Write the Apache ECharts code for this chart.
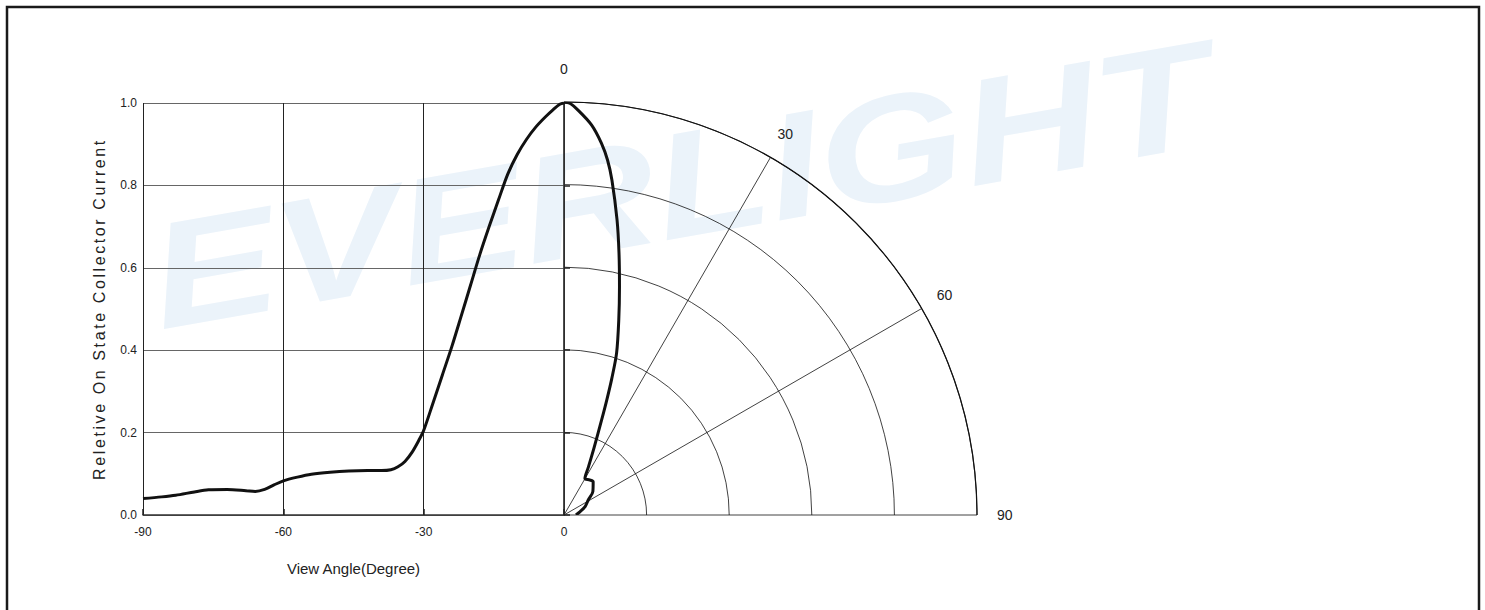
<!DOCTYPE html>
<html>
<head>
<meta charset="utf-8">
<script src="https://cdn.jsdelivr.net/npm/echarts@6/dist/echarts.min.js"></script>
<style>
html,body{margin:0;padding:0;background:#fff;}
#main{width:1485px;height:610px;}
</style>
</head>
<body>
<div id="main"></div>
<script>
// Cartesian half (-90..0 degrees)
const cartAngles = [-90, -86, -83, -79, -76, -72, -68, -66, -64, -62, -60, -57, -54, -50, -46, -42, -39, -37, -35.5, -34, -32.5, -31, -30, -28, -26, -24, -22, -20, -18, -16, -14, -12, -10, -8, -6, -4, -2.3, -0.9, 0];
const cartValues = [0.040, 0.044, 0.048, 0.056, 0.061, 0.062, 0.059, 0.057, 0.062, 0.073, 0.083, 0.092, 0.099, 0.104, 0.107, 0.108, 0.108, 0.110, 0.117, 0.130, 0.152, 0.182, 0.205, 0.272, 0.340, 0.408, 0.482, 0.557, 0.632, 0.700, 0.765, 0.828, 0.875, 0.912, 0.942, 0.966, 0.984, 0.997, 1.0];
// Polar half (0..90 degrees)
const polarAngles = [0, 0.8, 1.98, 4.03, 5.74, 6.99, 8.15, 10.19, 11.86, 13.68, 15.7, 18.0, 19.3, 20.4, 21.6, 24, 27, 29.8, 36, 41.3, 50.9, 58.3, 68.4, 78, 90];
const polarValues = [1.0, 0.997, 0.981, 0.947, 0.905, 0.866, 0.819, 0.726, 0.648, 0.568, 0.490, 0.412, 0.35, 0.297, 0.247, 0.18, 0.13, 0.102, 0.105, 0.107, 0.090, 0.069, 0.055, 0.040, 0.029];

const xTickLabels = [-90, -60, -30, 0];
const angleTickLabels = [0, 30, 60, 90];
const yName = 'Reletive On State Collector Current';
const xName = 'View Angle(Degree)';
const watermark = 'EVERLIGHT';

const chart = echarts.init(document.getElementById('main'), null, {renderer: 'svg', width: 1485, height: 610});

const option = {
  animation: false,
  backgroundColor: '#ffffff',
  textStyle: {fontFamily: 'Liberation Sans, Arial, sans-serif'},
  graphic: [
    {
      type: 'text', z: -10, x: 680, y: 185, rotation: 10 * Math.PI / 180,
      scaleX: 1.25, scaleY: 1,
      style: {text: watermark, font: 'italic bold 150px "Liberation Sans", Arial, sans-serif', fill: '#ebf3fa', align: 'center', verticalAlign: 'middle'},
      silent: true
    },
    {
      type: 'rect', z: 100, silent: true,
      shape: {x: 7, y: 7, width: 1472, height: 640},
      style: {fill: 'none', stroke: '#1a1a1a', lineWidth: 2.5}
    }
  ],
  grid: {left: 143, right: 921, top: 103, bottom: 95, containLabel: false},
  xAxis: {
    type: 'value', min: -90, max: 0, interval: 30,
    name: xName, nameLocation: 'middle', nameGap: 46,
    nameTextStyle: {fontSize: 15, color: '#222'},
    axisLine: {show: true, lineStyle: {color: '#333', width: 1.5}},
    axisTick: {show: true, inside: true, length: 6, lineStyle: {color: '#222', width: 1.5}},
    axisLabel: {fontSize: 12, color: '#222', margin: 11, formatter: v => String(v)},
    splitLine: {show: true, lineStyle: {color: '#222', width: 1}}
  },
  yAxis: {
    type: 'value', min: 0, max: 1, interval: 0.2,
    name: yName, nameLocation: 'middle', nameGap: 36,
    nameTextStyle: {fontSize: 16, color: '#222'},
    axisLine: {show: true, lineStyle: {color: '#333', width: 1.5}},
    axisTick: {show: true, inside: true, length: 6, lineStyle: {color: '#222', width: 1.5}},
    axisLabel: {fontSize: 12, color: '#222', margin: 6, formatter: v => v.toFixed(1)},
    splitLine: {show: true, lineStyle: {color: '#666', width: 1}}
  },
  polar: {center: [564, 515], radius: 413},
  angleAxis: {
    type: 'value', min: 0, max: 90, interval: 30,
    startAngle: 90, endAngle: 0, clockwise: true,
    axisLine: {show: true, lineStyle: {color: '#111', width: 1.2}},
    axisTick: {show: false},
    splitLine: {show: true, lineStyle: {color: '#111', width: 0.8}},
    axisLabel: {
      show: true, margin: 14, fontSize: 14, color: '#222',
      formatter: v => '{a' + v + '|' + v + '}',
      rich: {
        a0: {fontSize: 14, color: '#222', padding: [0, 0, 12, 0]},
        a30: {fontSize: 14, color: '#222', padding: [0, 0, 4, 0]},
        a60: {fontSize: 14, color: '#222', padding: [0, 0, 0, 3]},
        a90: {fontSize: 14, color: '#222', padding: [0, 0, 0, 6]}
      }
    }
  },
  radiusAxis: {
    type: 'value', min: 0, max: 1, interval: 0.2,
    axisLine: {show: false}, axisTick: {show: false}, axisLabel: {show: false},
    splitLine: {show: true, lineStyle: {color: '#111', width: 0.8}}
  },
  series: [
    {
      type: 'line', name: 'cartesian', smooth: 0.3, symbol: 'none',
      data: cartAngles.map((a, i) => [a, cartValues[i]]),
      lineStyle: {color: '#111', width: 3}, z: 5
    },
    {
      type: 'line', name: 'polar', coordinateSystem: 'polar', smooth: 0.3, symbol: 'none',
      data: polarValues.map((r, i) => [r, polarAngles[i]]),
      lineStyle: {color: '#111', width: 3}, z: 5
    }
  ]
};
chart.setOption(option);

function spaceYName() {
  const texts = document.querySelectorAll('#main text');
  texts.forEach(t => {
    if (t.textContent === yName) {
      t.setAttribute('letter-spacing', '2.6');
      t.style.letterSpacing = '2.6px';
    }
  });
}
chart.on('finished', spaceYName);
spaceYName();
setTimeout(spaceYName, 0);
setTimeout(spaceYName, 50);
</script>
</body>
</html>
